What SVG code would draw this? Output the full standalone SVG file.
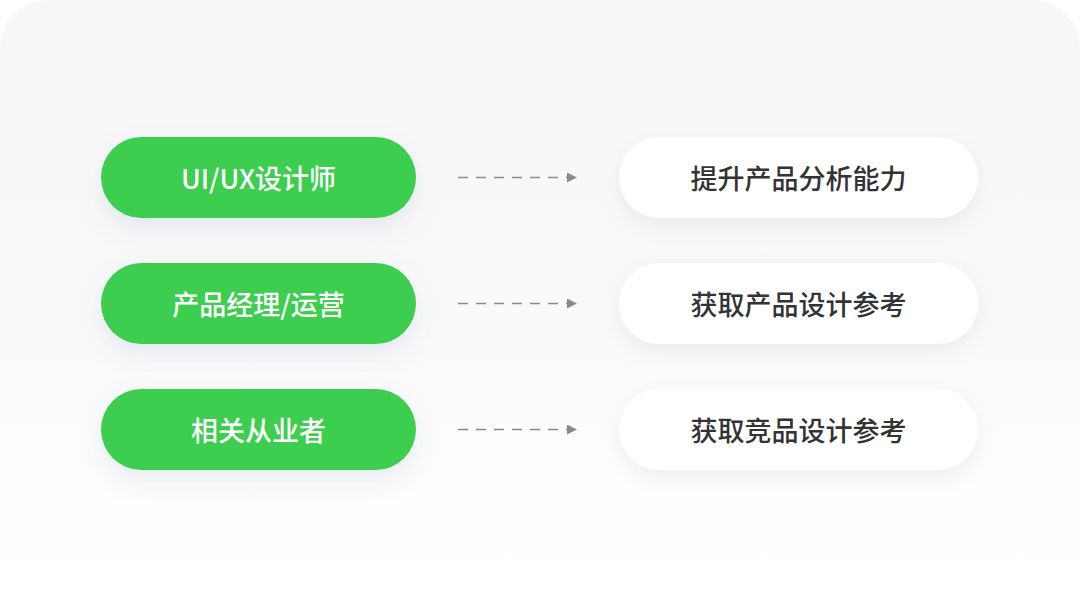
<svg xmlns="http://www.w3.org/2000/svg" width="1080" height="608" viewBox="0 0 1080 608">
<defs>
<style>
.g{fill:#3ccd4f}
.w{fill:#ffffff}
.tg{font-family:"Noto Sans CJK SC","Noto Sans",sans-serif;font-size:27px;font-weight:500;fill:#ffffff;text-anchor:middle;dominant-baseline:central}
.tw{font-family:"Noto Sans CJK SC","Noto Sans",sans-serif;font-size:27px;font-weight:500;fill:#333333;text-anchor:middle;dominant-baseline:central}
.c{stroke:#8a8a8a;stroke-width:1.5;stroke-dasharray:10 8;fill:none}
</style>
<linearGradient id="bg" x1="0" y1="0" x2="0" y2="1">
<stop offset="0" stop-color="#f7f7f8"/>
<stop offset="0.5" stop-color="#f9f9fa"/>
<stop offset="0.75" stop-color="#fdfdfd"/>
<stop offset="1" stop-color="#ffffff"/>
</linearGradient>
<filter id="sg" x="-20%" y="-40%" width="140%" height="200%">
<feDropShadow dx="0" dy="10" stdDeviation="12" flood-color="#5a6a9a" flood-opacity="0.13"/>
</filter>
<filter id="sw" x="-20%" y="-40%" width="140%" height="200%">
<feDropShadow dx="0" dy="8" stdDeviation="10" flood-color="#000000" flood-opacity="0.06"/>
</filter>
<marker id="ah" viewBox="0 0 10 10" refX="0" refY="5" markerWidth="10" markerHeight="10" markerUnits="userSpaceOnUse" orient="auto">
<path d="M0,0 L10,5 L0,10 Z" fill="#8a8a8a"/>
</marker>
</defs>
<rect x="0" y="0" width="1080" height="608" fill="#ffffff"/>
<path d="M48,0 H1032 A48,48 0 0 1 1080,48 V608 H0 V48 A48,48 0 0 1 48,0 Z" fill="url(#bg)"/>
<g id="connectors">
<line class="c" x1="458" y1="177.5" x2="567" y2="177.5" marker-end="url(#ah)"/>
<line class="c" x1="458" y1="303.5" x2="567" y2="303.5" marker-end="url(#ah)"/>
<line class="c" x1="458" y1="429.5" x2="567" y2="429.5" marker-end="url(#ah)"/>
</g>
<g id="n1">
<rect class="g" x="101" y="137" width="315" height="81" rx="40.5" filter="url(#sg)"/>
<text class="tg" x="258.5" y="177">UI/UX设计师</text>
</g>
<g id="n2">
<rect class="g" x="101" y="263" width="315" height="81" rx="40.5" filter="url(#sg)"/>
<text class="tg" x="258.5" y="303">产品经理/运营</text>
</g>
<g id="n3">
<rect class="g" x="101" y="389" width="315" height="81" rx="40.5" filter="url(#sg)"/>
<text class="tg" x="258.5" y="429">相关从业者</text>
</g>
<g id="n4">
<rect class="w" x="619" y="137" width="359" height="81" rx="40.5" filter="url(#sw)"/>
<text class="tw" x="798.5" y="177">提升产品分析能力</text>
</g>
<g id="n5">
<rect class="w" x="619" y="263" width="359" height="81" rx="40.5" filter="url(#sw)"/>
<text class="tw" x="798.5" y="303">获取产品设计参考</text>
</g>
<g id="n6">
<rect class="w" x="619" y="389" width="359" height="81" rx="40.5" filter="url(#sw)"/>
<text class="tw" x="798.5" y="429">获取竞品设计参考</text>
</g>
</svg>
